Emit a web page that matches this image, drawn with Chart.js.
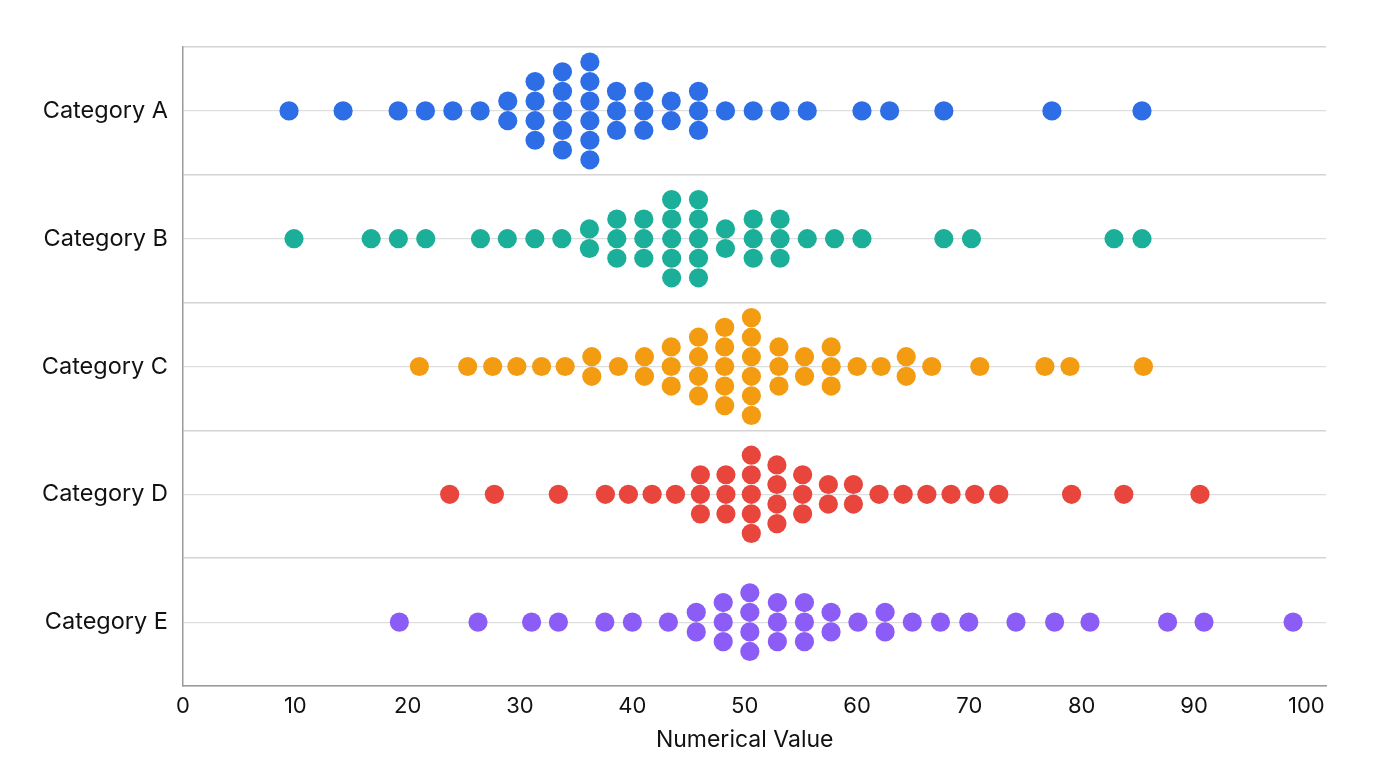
<!DOCTYPE html>
<html>
<head>
<meta charset="utf-8">
<title>Beeswarm</title>
<script src="https://cdn.jsdelivr.net/npm/chart.js@4.4.1/dist/chart.umd.min.js"></script>
<style>
    html, body { margin: 0; padding: 0; background: #fff; }
    #wrap { width: 1376px; height: 768px; position: relative; }
</style>
</head>
<body>
<div id="wrap"><canvas id="chart"></canvas></div>
<script>
// Category names (top to bottom)
const categories = ['Category A', 'Category B', 'Category C', 'Category D', 'Category E'];

// Column values (x) and how many dots are stacked in each column
const valuesA = [9.44, 14.25, 19.15, 21.58, 24.02, 26.45, 28.91, 31.34, 33.78, 36.22, 38.59, 41.02, 43.46, 45.89, 48.29, 50.76, 53.15, 55.57, 60.44, 62.90, 67.73, 77.35, 85.37];
const countsA = [1, 1, 1, 1, 1, 1, 2, 4, 5, 6, 3, 3, 2, 3, 1, 1, 1, 1, 1, 1, 1, 1, 1];

const valuesB = [9.88, 16.75, 19.17, 21.61, 26.48, 28.87, 31.32, 33.72, 36.18, 38.62, 41.02, 43.50, 45.89, 48.29, 50.76, 53.15, 55.57, 58.0, 60.44, 67.73, 70.19, 82.88, 85.37];
const countsB = [1, 1, 1, 1, 1, 1, 1, 1, 2, 3, 3, 5, 5, 2, 3, 3, 1, 1, 1, 1, 1, 1, 1];

const valuesC = [21.04, 25.34, 27.57, 29.72, 31.92, 34.02, 36.39, 38.76, 41.08, 43.46, 45.89, 48.22, 50.60, 53.05, 55.33, 57.70, 60.01, 62.15, 64.38, 66.65, 70.93, 76.73, 78.96, 85.50];
const countsC = [1, 1, 1, 1, 1, 1, 2, 1, 2, 3, 4, 5, 6, 3, 2, 3, 1, 1, 2, 1, 1, 1, 1, 1];

const valuesD = [23.74, 27.72, 33.41, 37.60, 39.65, 41.76, 43.84, 46.06, 48.33, 50.59, 52.87, 55.16, 57.45, 59.68, 61.96, 64.11, 66.22, 68.37, 70.48, 72.62, 79.10, 83.75, 90.53];
const countsD = [1, 1, 1, 1, 1, 1, 1, 3, 3, 5, 4, 3, 2, 2, 1, 1, 1, 1, 1, 1, 1, 1, 1];

const valuesE = [19.26, 26.26, 31.03, 33.42, 37.55, 40.0, 43.21, 45.69, 48.09, 50.46, 52.91, 55.32, 57.69, 60.08, 62.50, 64.92, 67.43, 69.95, 74.15, 77.59, 80.74, 87.65, 90.89, 98.82];
const countsE = [1, 1, 1, 1, 1, 1, 1, 2, 3, 4, 3, 3, 2, 1, 2, 1, 1, 1, 1, 1, 1, 1, 1, 1];

// X axis tick labels
const xTicks = [0, 10, 20, 30, 40, 50, 60, 70, 80, 90, 100];
const xTitle = 'Numerical Value';

const colors = ['#2d6ee6', '#1bae99', '#f39c12', '#e8453c', '#8b5cf6'];

// Stack dots of one column symmetrically around the category line
const STACK_GAP = 0.153;
function swarm(values, counts, row) {
    const points = [];
    values.forEach((v, i) => {
        const n = counts[i];
        for (let k = 0; k < n; k++) {
            points.push({ x: v, y: row + (k - (n - 1) / 2) * STACK_GAP });
        }
    });
    return points;
}

const series = [
    [valuesA, countsA],
    [valuesB, countsB],
    [valuesC, countsC],
    [valuesD, countsD],
    [valuesE, countsE]
];

// Axis title centred under the 0-100 tick range
const xTitlePlugin = {
    id: 'xTitle',
    afterDraw(chart) {
        const c = chart.ctx;
        const xs = chart.scales.x;
        c.save();
        c.font = '23px Inter, "Noto Sans", sans-serif';
        c.fillStyle = '#111';
        c.textAlign = 'center';
        c.textBaseline = 'middle';
        c.fillText(xTitle, (xs.getPixelForValue(xTicks[0]) + xs.getPixelForValue(xTicks[xTicks.length - 1])) / 2, 740);
        c.restore();
    }
};

Chart.defaults.font.family = 'Inter, "Noto Sans", sans-serif';
Chart.defaults.color = '#111';

const ctx = document.getElementById('chart').getContext('2d');
new Chart(ctx, {
    type: 'scatter',
    data: {
        datasets: series.map(([vals, cnts], i) => ({
            label: categories[i],
            data: swarm(vals, cnts, i),
            backgroundColor: colors[i],
            borderWidth: 0,
            pointRadius: 9.6,
            pointHoverRadius: 9.6
        }))
    },
    options: {
        responsive: true,
        maintainAspectRatio: false,
        animation: false,
        layout: {
            padding: { top: 47, right: 50, left: 0, bottom: 0 }
        },
        plugins: {
            legend: { display: false },
            tooltip: { enabled: false }
        },
        scales: {
            x: {
                type: 'linear',
                min: 0,
                max: 101.75,
                afterBuildTicks: (axis) => {
                    axis.ticks = xTicks.map(v => ({ value: v }));
                },
                afterFit: (axis) => { axis.height = 82; },
                grid: { display: false, drawTicks: false },
                border: { display: true, color: '#9a9a9a', width: 1.5 },
                ticks: {
                    padding: 7,
                    font: { size: 22 },
                    color: '#111',
                    maxRotation: 0
                }
            },
            y: {
                type: 'linear',
                min: -0.5,
                max: 4.5,
                reverse: true,
                afterBuildTicks: (axis) => {
                    const t = [];
                    for (let v = -0.5; v <= 4.5; v += 0.5) t.push({ value: v });
                    axis.ticks = t;
                },
                afterFit: (axis) => { axis.width = 183; },
                grid: {
                    drawTicks: false,
                    color: (c) => (c.tick && Number.isInteger(c.tick.value)) ? '#dedede' : '#d3d3d3',
                    lineWidth: (c) => (c.tick && Number.isInteger(c.tick.value)) ? 1.2 : 1.5
                },
                border: { display: true, color: '#9a9a9a', width: 1.5 },
                ticks: {
                    padding: 15,
                    font: { size: 23.5 },
                    color: '#111',
                    callback: (v) => Number.isInteger(v) ? categories[v] : ''
                }
            }
        }
    },
    plugins: [xTitlePlugin]
});
</script>
</body>
</html>
